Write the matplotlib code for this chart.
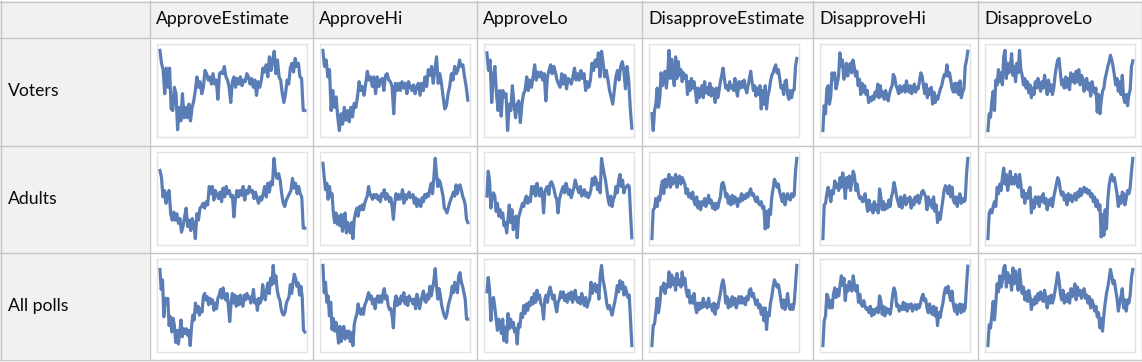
import numpy as np
import matplotlib
matplotlib.use("Agg")
import matplotlib.pyplot as plt
from matplotlib.patches import Rectangle

plt.rcParams['font.family'] = ['Lato', 'DejaVu Sans']

# table labels
col_labels = ["ApproveEstimate", "ApproveHi", "ApproveLo",
              "DisapproveEstimate", "DisapproveHi", "DisapproveLo"]
row_labels = ["Voters", "Adults", "All polls"]

# sparkline values (relative scale 0-100)
voters_approve_est = [100,84,76,46,78,54,78,27,25,54,46,1,29,12,46,16,29,16,33,12,29,37,50,67,54,61,46,54,75,71,63,67,58,71,58,63,39,71,73,71,80,67,63,54,35,61,67,54,65,58,67,56,63,61,71,67,58,65,54,63,44,61,54,63,78,73,82,67,92,75,88,99,71,88,67,63,46,35,46,63,58,78,84,73,90,80,84,67,65,25,25]
voters_approve_hi = [100,80,88,67,76,25,50,29,42,17,0,21,8,29,13,25,11,29,17,34,29,42,61,50,55,44,59,74,63,67,55,67,46,67,55,63,65,50,69,71,63,61,55,21,59,50,59,50,61,53,59,46,61,55,50,57,46,55,59,44,59,50,67,55,76,69,80,59,76,92,59,71,59,42,27,31,46,55,71,63,80,71,76,88,80,82,67,55,38]
voters_approve_lo = [97,75,88,35,67,80,46,25,50,18,50,42,46,0,33,25,56,33,16,33,37,10,33,46,50,67,50,63,54,67,82,63,73,67,73,63,71,37,67,75,82,71,80,73,63,58,54,71,58,69,52,65,63,58,67,78,63,71,63,75,65,71,50,61,54,63,84,75,88,80,97,67,99,84,67,75,63,50,42,33,50,67,75,63,80,86,75,52,80,63,29,3]
voters_disapprove_est = [21,0,25,33,53,29,41,72,56,63,74,53,72,100,65,89,69,56,92,65,86,69,76,61,72,65,69,45,61,50,65,53,61,50,35,53,41,50,56,41,61,47,54,45,59,43,53,50,35,53,41,50,61,69,78,65,53,56,50,61,53,56,50,65,51,43,61,53,61,54,63,53,47,56,65,74,61,50,56,43,53,45,56,27,50,33,56,27,43,50,61,69,72,78,82,72,76,65,53,56,45,61,63,45,39,50,41,50,51,80,90]
voters_disapprove_hi = [0,31,21,52,56,33,43,72,64,72,52,59,68,97,80,88,64,72,84,68,80,84,72,88,80,68,74,56,64,45,59,48,56,45,50,35,41,37,43,39,48,43,58,41,56,43,48,39,50,43,37,46,52,56,70,66,56,52,46,56,48,52,56,48,62,52,48,56,46,52,58,48,54,52,62,72,68,56,46,58,41,52,45,54,33,48,35,43,39,46,52,56,64,70,68,82,68,72,62,52,48,59,48,59,45,62,41,48,52,80,88,99]
voters_disapprove_lo = [0,21,17,37,49,25,63,57,76,61,72,57,92,100,65,84,72,80,96,69,80,61,84,72,100,76,69,57,65,53,61,47,57,41,53,45,61,53,65,57,49,61,53,69,57,45,63,49,57,45,53,69,80,88,90,72,57,63,53,67,54,65,51,72,61,70,59,74,61,76,57,69,65,49,61,65,51,59,43,61,53,47,53,23,45,21,37,49,53,65,72,80,86,94,88,80,69,57,65,49,61,45,69,41,35,45,31,45,51,80,87]

adults_approve_est = [85,77,52,60,44,56,60,31,23,33,23,31,19,25,8,15,27,38,15,23,10,25,17,0,31,23,38,40,44,38,46,42,65,56,65,48,60,54,50,58,46,63,52,65,56,60,52,54,27,50,60,52,60,54,65,48,60,56,65,58,60,50,58,50,44,52,48,56,65,52,69,58,71,67,100,81,75,81,73,56,44,40,48,52,56,60,75,63,69,56,65,56,52,13,13]
adults_approve_hi = [94,77,61,69,49,65,53,56,32,20,32,18,28,16,30,9,22,32,7,20,14,7,20,0,24,32,38,28,40,36,42,36,44,49,53,65,56,53,49,55,51,55,49,53,46,56,53,61,49,56,53,46,51,40,24,44,56,49,55,49,53,61,44,55,49,53,58,51,53,55,44,51,40,49,44,40,51,46,55,51,56,53,63,69,56,77,100,81,65,73,69,61,53,38,36,32,38,44,49,53,58,53,67,56,65,67,61,53,49,42,24,20]
adults_approve_lo = [53,84,73,38,53,57,53,34,44,28,36,26,32,16,20,7,24,42,20,36,11,24,28,1,26,32,38,44,40,49,53,44,51,46,65,56,65,53,69,59,53,63,57,32,57,63,65,55,69,71,67,61,53,49,32,49,55,61,65,57,69,63,55,61,51,57,63,73,67,61,57,65,53,57,61,53,57,51,55,61,75,67,77,73,61,69,57,100,90,81,73,61,49,42,53,40,49,53,65,57,73,80,65,73,57,63,65,67,65,32,1]
adults_disapprove_est = [0,36,38,50,40,52,48,64,72,56,74,64,72,80,64,76,68,72,80,64,76,78,68,76,72,68,56,62,52,56,50,58,46,42,52,38,46,36,46,42,50,40,46,54,44,48,38,44,36,44,38,46,52,68,70,64,52,56,44,52,42,54,44,52,48,40,50,46,56,48,54,50,56,52,58,62,54,56,50,46,52,44,42,46,38,40,12,34,14,36,30,52,62,74,70,64,68,58,52,46,56,42,50,56,50,48,56,52,54,84,100]
adults_disapprove_hi = [0,42,44,56,64,56,46,60,56,72,64,68,60,76,64,82,72,50,76,64,78,60,72,84,78,60,68,56,50,52,46,48,56,44,34,48,36,42,32,46,36,42,32,62,52,36,46,36,42,38,48,40,52,58,70,62,52,46,40,52,38,48,54,42,50,46,52,38,48,42,52,46,54,44,50,58,60,56,52,36,52,42,48,38,52,34,42,20,32,24,36,48,60,66,62,56,66,52,64,48,44,52,40,50,56,44,50,46,48,80,100]
adults_disapprove_lo = [0,32,36,32,40,46,40,64,56,68,60,76,88,68,80,60,72,84,68,76,68,80,72,64,80,68,52,60,44,56,50,60,64,32,48,38,52,44,52,40,52,46,56,44,50,36,48,42,50,40,52,60,68,76,72,60,54,58,48,54,42,56,48,54,46,52,56,48,58,52,62,54,60,64,58,62,56,60,52,56,46,52,40,48,36,42,2,30,4,36,12,48,66,76,80,72,76,66,56,40,52,44,58,56,42,50,60,56,64,84,100]

allpolls_approve_est = [95,70,82,36,59,53,59,25,36,17,34,25,4,19,2,15,32,11,21,15,21,13,19,0,23,38,32,53,42,49,38,46,42,61,65,57,61,51,59,53,57,44,53,46,59,63,70,59,72,61,57,65,49,30,53,65,53,63,49,61,51,63,53,49,63,57,65,59,61,53,59,70,53,57,44,59,53,57,76,63,57,70,78,65,84,76,100,78,87,70,61,57,46,40,38,42,53,57,61,76,65,78,89,84,74,78,63,74,61,19,17]
allpolls_approve_hi = [100,66,79,54,62,37,54,20,34,18,29,20,3,24,5,16,24,8,18,10,18,5,16,0,26,34,39,52,43,39,46,39,50,54,60,66,58,62,52,58,46,58,62,54,62,54,64,71,58,62,50,45,46,37,22,54,62,50,58,52,62,56,66,52,60,50,62,56,58,52,58,46,64,58,46,54,62,68,56,54,64,58,74,62,71,81,96,74,58,71,62,50,43,37,34,39,50,56,62,74,66,79,74,66,87,91,79,74,66,58,33,33]
allpolls_approve_lo = [67,85,71,31,56,60,48,33,19,33,27,15,33,6,23,4,40,21,33,23,29,17,21,2,27,23,40,35,50,40,52,44,54,50,60,52,65,54,69,58,63,52,50,33,58,63,54,67,73,65,58,63,50,42,54,58,67,60,67,56,63,54,65,58,67,54,60,69,58,54,60,52,65,56,50,60,48,54,58,79,65,73,77,67,75,58,88,100,83,75,65,52,46,50,44,38,46,54,63,75,67,81,71,79,63,73,67,60,63,33,0]
allpolls_disapprove_est = [0,25,27,41,59,41,53,73,69,78,65,76,73,92,73,88,76,84,69,90,76,82,73,92,76,84,69,61,69,53,61,53,65,49,41,53,45,53,47,59,49,53,47,59,49,51,43,53,39,51,47,57,65,76,82,73,53,61,47,57,49,61,51,59,47,53,61,53,61,53,59,51,61,57,69,71,61,65,57,51,57,47,51,39,47,31,47,20,41,37,53,61,73,82,78,73,76,67,55,47,57,45,53,65,49,45,51,45,53,76,100]
allpolls_disapprove_hi = [0,31,37,64,60,47,56,47,64,72,60,70,62,75,87,75,84,56,75,68,80,72,68,87,75,68,75,54,64,52,49,56,49,45,47,41,49,37,45,39,45,47,41,62,56,39,49,37,47,41,45,39,49,64,72,66,49,51,43,49,45,54,45,52,43,51,47,52,43,49,51,45,51,47,52,60,64,56,58,47,41,52,43,39,49,37,47,25,41,35,45,52,64,72,66,74,64,56,68,52,43,51,39,49,52,41,51,43,47,75,99]
allpolls_disapprove_lo = [0,26,22,38,55,32,53,77,67,87,73,81,97,100,73,91,79,87,69,97,77,93,81,69,95,77,65,73,57,67,55,69,61,45,57,51,61,53,65,57,67,59,55,69,59,47,61,53,63,53,59,69,79,91,81,65,57,69,53,63,55,65,53,71,61,67,77,57,73,63,69,59,65,71,59,63,53,61,47,57,51,43,49,36,41,22,34,18,38,53,65,73,83,95,87,77,81,69,59,43,53,61,71,47,57,43,57,53,63,85,95]

grid = [
    [voters_approve_est, voters_approve_hi, voters_approve_lo,
     voters_disapprove_est, voters_disapprove_hi, voters_disapprove_lo],
    [adults_approve_est, adults_approve_hi, adults_approve_lo,
     adults_disapprove_est, adults_disapprove_hi, adults_disapprove_lo],
    [allpolls_approve_est, allpolls_approve_hi, allpolls_approve_lo,
     allpolls_disapprove_est, allpolls_disapprove_hi, allpolls_disapprove_lo],
]

W, H = 1142, 362
col_x = [0, 149, 312, 476, 641, 812, 977, 1141]   # column edges, px
row_y = [1, 37, 145, 252, 359]                     # row edges, px
line_col = "#5a7db5"
rule_col = "#c6c6c6"
head_bg = "#f1f1f1"

fig = plt.figure(figsize=(W / 100, H / 100), dpi=100)
bg = fig.add_axes([0, 0, 1, 1])
bg.set_xlim(0, W)
bg.set_ylim(H, 0)
bg.axis("off")

# header row and label column backgrounds
bg.add_patch(Rectangle((0, row_y[0]), W, row_y[1] - row_y[0], color=head_bg, lw=0))
bg.add_patch(Rectangle((0, row_y[0]), col_x[1], row_y[-1] - row_y[0], color=head_bg, lw=0))

for x in col_x:
    bg.plot([x + 0.5, x + 0.5], [row_y[0], row_y[-1]], color=rule_col, lw=1)
for y in row_y:
    bg.plot([0, col_x[-1] + 0.5], [y + 0.5, y + 0.5], color=rule_col, lw=1)

for j, lab in enumerate(col_labels):
    bg.text(col_x[j + 1] + 7, (row_y[0] + row_y[1]) / 2, lab,
            fontsize=12.7, va="center", ha="left", color="#0a0a0a")
for i, lab in enumerate(row_labels):
    bg.text(8, (row_y[i + 1] + row_y[i + 2]) / 2, lab,
            fontsize=12.7, va="center", ha="left", color="#0a0a0a")

# sparklines
box_w, box_h = 150, 93
for i in range(3):
    for j in range(6):
        vals = np.array(grid[i][j], dtype=float)
        left = col_x[j + 1] + 8
        top = row_y[i + 1] + 7
        ax = fig.add_axes([left / W, 1 - (top + box_h) / H, box_w / W, box_h / H])
        x = np.arange(len(vals))
        ax.plot(x, vals, color=line_col, lw=2.3, solid_joinstyle="round")
        n = len(vals) - 1
        ax.set_xlim(-0.02 * n, 1.015 * n)
        ax.set_ylim(-8, 108)
        ax.set_xticks([])
        ax.set_yticks([])
        for s in ax.spines.values():
            s.set_color("#e2e2e2")
            s.set_linewidth(1)

fig.savefig("out.png", dpi=100)
